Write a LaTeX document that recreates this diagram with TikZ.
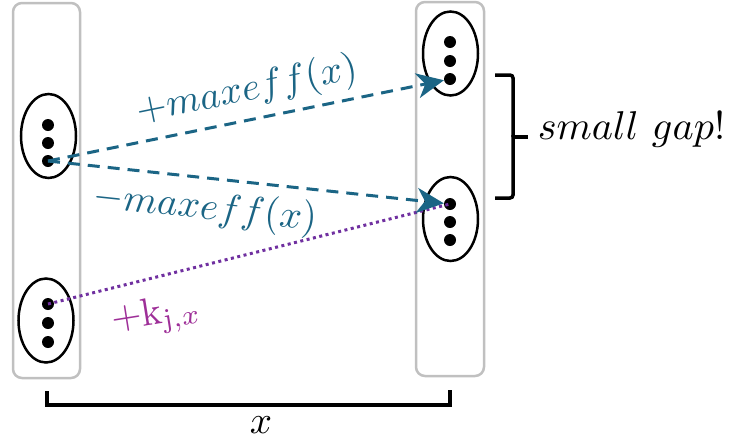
\documentclass[tikz,border=0pt]{standalone}
\usetikzlibrary{shapes.geometric,arrows.meta}
\definecolor{tealc}{RGB}{27,101,133}
\definecolor{dotpur}{RGB}{112,48,160}
\definecolor{labpur}{RGB}{158,47,152}
\definecolor{boxgray}{RGB}{192,192,192}
\begin{document}
\begin{tikzpicture}[x=1pt,y=-1pt,
  colbox/.style={draw=boxgray,line width=2.5pt,rounded corners=9pt,rectangle,inner sep=0pt},
  ell/.style={draw=black,line width=2.5pt,ellipse,inner sep=0pt,minimum width=55pt,minimum height=84pt},
  blob/.style={circle,fill=black,inner sep=0pt,minimum size=12pt},
  dasharrow/.style={draw=tealc,line width=3pt,dash pattern=on 12pt off 8pt,
    -{Stealth[length=27pt,width=25pt,inset=8pt]}},
  dotline/.style={draw=dotpur,line width=3pt,dash pattern=on 3pt off 3.5pt},
  bracket/.style={draw=black,line width=3.5pt},
  lab/.style={scale=3.9,transform shape,inner sep=0pt}]
\useasboundingbox (0,0) rectangle (733,445);
% column boxes
\node[colbox,minimum width=67pt,minimum height=375pt] (L) at (46.5,190.5) {};
\node[colbox,minimum width=68pt,minimum height=374pt] (R) at (450,189) {};
% ellipses
\node[ell] (e1) at (48.5,136) {};
\node[ell] (e2) at (46,320.5) {};
\node[ell] (e3) at (450.5,53.5) {};
\node[ell] (e4) at (450.5,219) {};
% dots
\node[blob] (a1) at (48,125) {};
\node[blob] (a2) at (48,143) {};
\node[blob] (a3) at (48,161) {};
\node[blob] (b1) at (48,304) {};
\node[blob] (b2) at (48,323) {};
\node[blob] (b3) at (48,342) {};
\node[blob] (c1) at (450,42) {};
\node[blob] (c2) at (450,61) {};
\node[blob] (c3) at (450,79) {};
\node[blob] (d1) at (450,204) {};
\node[blob] (d2) at (450,222) {};
\node[blob] (d3) at (450,240) {};
% connectors
\draw[dotline] (b1.center) -- (d1.center);
\draw[dasharrow] (a3.center) -- (c3);
\draw[dasharrow] (a3.center) -- (d1);
% labels
\node[lab,text=tealc,rotate=11.5] (t1) at (247,91) {$+maxeff(x)$};
\node[lab,text=tealc,rotate=-6] (t2) at (205,209) {$-maxeff(x)$};
\node[lab,text=labpur,rotate=9] (t3) at (156,316) {$+\mathrm{k}_{\mathrm{j},x}$};
% brace
\draw[bracket,rounded corners=3pt] (495,75) -| (513,137);
\draw[bracket,rounded corners=3pt] (513,135) |- (495,198);
\draw[bracket] (513,137) -- (528,137);
\node[lab,scale=1.03,anchor=base west] (sg) at (537,139) {$small\ gap$!};
% bottom bracket
\draw[bracket,line width=4pt] (47,391) |- (450,405) -- (450,390);
\node[lab] (xl) at (261,425) {$x$};
\end{tikzpicture}
\end{document}
